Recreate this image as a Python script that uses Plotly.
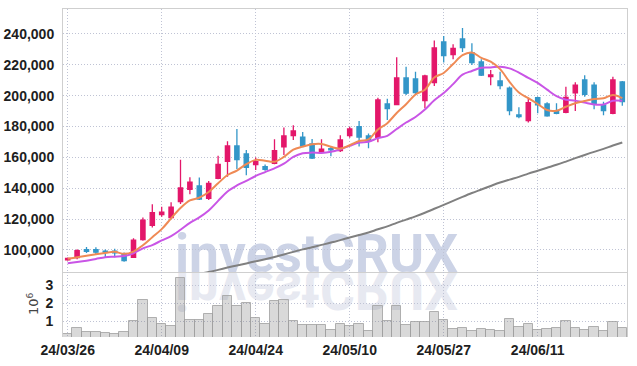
import base64
import plotly.graph_objects as go

# ---------------- data ----------------
dates = ["24/03/26", "24/03/27", "24/03/28", "24/03/29", "24/04/01", "24/04/02", "24/04/03", "24/04/04",
         "24/04/05", "24/04/08", "24/04/09", "24/04/11", "24/04/12", "24/04/15", "24/04/16", "24/04/17",
         "24/04/18", "24/04/19", "24/04/22", "24/04/23", "24/04/24", "24/04/25", "24/04/26", "24/04/29",
         "24/04/30", "24/05/02", "24/05/03", "24/05/07", "24/05/08", "24/05/09", "24/05/10", "24/05/13",
         "24/05/14", "24/05/16", "24/05/17", "24/05/20", "24/05/21", "24/05/22", "24/05/23", "24/05/24",
         "24/05/27", "24/05/28", "24/05/29", "24/05/30", "24/05/31", "24/06/03", "24/06/04", "24/06/05",
         "24/06/07", "24/06/10", "24/06/11", "24/06/12", "24/06/13", "24/06/14", "24/06/17", "24/06/18",
         "24/06/19", "24/06/20", "24/06/21", "24/06/24"]

opens = [93600, 95000, 100300, 100200, 99300, 99300, 97200, 95300, 106700, 116000,
         122900, 121000, 131300, 139300, 141500, 133500, 146500, 157500, 167400, 162200,
         155300, 154000, 156100, 166900, 174100, 173200, 168700, 163300, 165600, 164400,
         174100, 179900, 173900, 173000, 194600, 194200, 211500, 210800, 196800, 208500,
         234800, 226600, 236800, 227900, 221900, 212300, 209500, 204800, 187500, 183800,
         198700, 194600, 190300, 189200, 201900, 210200, 206900, 194000, 188600, 208900]
highs = [95200, 100500, 102000, 101700, 100400, 100800, 98300, 107600, 121000, 129600,
         128000, 131000, 158500, 147100, 147000, 144700, 161100, 170400, 178400, 164800,
         160000, 155400, 171700, 179300, 180800, 176500, 171900, 171700, 167400, 174300,
         179900, 183600, 175500, 198700, 198000, 224900, 218800, 215500, 213500, 235700,
         238700, 233300, 243900, 233900, 223600, 216600, 215500, 206000, 192500, 198700,
         199300, 195700, 195100, 205800, 208700, 213200, 208700, 196100, 212300, 209500]
lows = [93000, 94000, 98000, 97300, 95300, 95300, 92400, 94800, 106000, 114500,
        121600, 120500, 129800, 136100, 132400, 132400, 145800, 147500, 152500, 148400,
        151800, 151400, 155500, 161600, 171300, 166500, 159000, 162700, 160700, 163500,
        172800, 167000, 166000, 169800, 184200, 193800, 200400, 201100, 191800, 206300,
        221500, 223600, 228300, 219900, 212800, 206700, 204100, 187300, 185300, 182700,
        188600, 186400, 187900, 188600, 190100, 199300, 191200, 187300, 187900, 193500]
closes = [94600, 99500, 99200, 98600, 98600, 98200, 93100, 106400, 119400, 124200,
          124600, 127700, 140200, 144000, 133000, 143200, 155500, 167400, 158500, 153600,
          157200, 152300, 164300, 173900, 177100, 167400, 159600, 165400, 164900, 171300,
          178400, 173200, 170500, 197200, 191600, 211500, 201600, 202000, 212800, 230900,
          226000, 230700, 231200, 221400, 213300, 213400, 206500, 190300, 186500, 195500,
          194000, 187000, 188600, 198900, 206900, 200900, 194400, 190300, 210200, 196100]

ma5 = [94300, 95300, 96200, 97200, 98100, 98800, 97500, 99000, 103100, 108300,
       113500, 120500, 127200, 132100, 133900, 137600, 143200, 148600, 151500, 155600,
       158400, 157800, 157200, 160300, 165000, 167000, 168500, 168700, 166900, 165700,
       167900, 170600, 171700, 178100, 182200, 188800, 194500, 200800, 203900, 211800,
       214700, 220500, 226300, 228000, 224500, 222000, 217200, 209000, 202000, 198400,
       194600, 190700, 190300, 192800, 195100, 196500, 197900, 198300, 200500, 198400]
ma10 = [91400, 92200, 93100, 94200, 95300, 95700, 96100, 97900, 101100, 103200,
        106200, 109000, 113100, 117600, 121100, 125600, 131800, 137900, 141800, 144800,
        148000, 150500, 152900, 155900, 160300, 162700, 163100, 162900, 163600, 165300,
        167500, 169600, 170200, 172500, 174000, 178400, 182600, 186200, 191000, 197000,
        201700, 207500, 213600, 216000, 218100, 218300, 218800, 217700, 215000, 211500,
        208300, 203900, 199700, 197400, 196800, 195500, 194300, 194300, 196700, 196700]
ma60 = [None] * 13 + [
        83600, 84600, 85700, 87100, 88600, 90000, 91300,
        92700, 94000, 95500, 97100, 98800, 100400, 101800, 103300, 104800, 106400,
        108100, 109700, 111300, 113400, 115300, 117600, 119700, 121800, 124100, 126700,
        129200, 131800, 134400, 136900, 139200, 141500, 143700, 145600, 147400, 149500,
        151400, 153300, 155200, 157300, 159500, 161600, 163600, 165500, 167700, 169700]

volume = [300000, 610000, 410000, 410000, 340000, 280000, 410000, 1020000, 2160000, 1160000,
          850000, 720000, 3390000, 1070000, 1070000, 1400000, 1850000, 2400000, 1850000, 1990000,
          1160000, 850000, 2120000, 2180000, 1020000, 800000, 800000, 800000, 520000, 830000,
          740000, 830000, 460000, 1850000, 1020000, 1850000, 800000, 960000, 960000, 1500000,
          1070000, 570000, 630000, 460000, 570000, 500000, 460000, 1110000, 690000, 830000,
          500000, 570000, 630000, 1000000, 630000, 500000, 690000, 460000, 940000, 630000]

tick_dates = ["24/03/26", "24/04/09", "24/04/24", "24/05/10", "24/05/27", "24/06/11"]
tick_labels = ["24/03/26", "24/04/09", "24/04/24", "24/05/10", "24/05/27", "24/06/11"]
price_ticks = [100000, 120000, 140000, 160000, 180000, 200000, 220000, 240000]
vol_ticks = [1000000, 2000000, 3000000]
vol_tick_labels = ["1", "2", "3"]

# ---------------- styles ----------------
RED = "#e3176a"
BLUE = "#3396c8"
GRID = "#bfc3d4"
GRIDDASH = "1px,2px"
FRAME = "#cfcfcf"
TICKFONT = dict(family="Liberation Sans Narrow, Liberation Sans, Arial, sans-serif",
                size=14, color="#1e1e1e", weight="bold")

fig = go.Figure()

fig.add_trace(go.Candlestick(
    x=dates, open=opens, high=highs, low=lows, close=closes,
    increasing=dict(line=dict(color=RED, width=1.3), fillcolor=RED),
    decreasing=dict(line=dict(color=BLUE, width=1.3), fillcolor=BLUE),
    whiskerwidth=0, xaxis="x", yaxis="y", showlegend=False, hoverinfo="skip"))

fig.add_trace(go.Scatter(x=dates, y=ma60, mode="lines", xaxis="x", yaxis="y",
                         line=dict(color="#808080", width=2, shape="spline"),
                         showlegend=False, hoverinfo="skip"))
fig.add_trace(go.Scatter(x=dates, y=ma10, mode="lines", xaxis="x", yaxis="y",
                         line=dict(color="#c955e6", width=2, shape="spline"),
                         showlegend=False, hoverinfo="skip"))
fig.add_trace(go.Scatter(x=dates, y=ma5, mode="lines", xaxis="x", yaxis="y",
                         line=dict(color="#ef8a55", width=2, shape="spline"),
                         showlegend=False, hoverinfo="skip"))

fig.add_trace(go.Bar(x=dates, y=volume, xaxis="x2", yaxis="y2",
                     marker=dict(color="rgba(120,120,120,0.28)",
                                 line=dict(color="rgba(160,160,160,0.8)", width=1)),
                     showlegend=False, hoverinfo="skip"))

# watermark with reflection (svg image)
svg = (
    '<svg xmlns="http://www.w3.org/2000/svg" width="295" height="88" viewBox="0 0 295 88">'
    '<text x="5" y="44" font-family="Roboto, Liberation Sans, sans-serif" font-weight="bold" '
    'font-size="54" fill="#ccd3e6" textLength="283" lengthAdjust="spacingAndGlyphs">investCRUX</text>'
    '<g transform="translate(0,88) scale(1,-1)">'
    '<text x="5" y="44" font-family="Roboto, Liberation Sans, sans-serif" font-weight="bold" '
    'font-size="54" fill="#e7e9f1" textLength="283" lengthAdjust="spacingAndGlyphs">investCRUX</text>'
    '</g></svg>'
)
svg_uri = "data:image/svg+xml;base64," + base64.b64encode(svg.encode("utf-8")).decode("ascii")

PLOT_L, PLOT_R, PLOT_T, PLOT_B = 63, 627, 9, 337
PW, PH = PLOT_R - PLOT_L, PLOT_B - PLOT_T

fig.add_layout_image(dict(
    source=svg_uri, xref="paper", yref="paper",
    x=(170 - PLOT_L) / PW, y=1 - (228 - PLOT_T) / PH,
    sizex=295 / PW, sizey=88 / PH, sizing="stretch",
    xanchor="left", yanchor="top", layer="below"))

# volume axis exponent label
fig.add_annotation(text="10<sup>6</sup>", xref="paper", yref="paper",
                   x=(33 - PLOT_L) / PW, y=1 - (304 - PLOT_T) / PH,
                   xanchor="center", yanchor="middle", textangle=-90, showarrow=False,
                   font=dict(family="DejaVu Sans, sans-serif", size=13, color="#444444"))

vol_top = (PLOT_B - 272) / PH

fig.update_layout(
    width=637, height=366,
    margin=dict(l=PLOT_L, r=637 - PLOT_R, t=PLOT_T, b=366 - PLOT_B, autoexpand=False),
    paper_bgcolor="white", plot_bgcolor="white",
    showlegend=False, bargap=0, boxgap=0.35,
    xaxis=dict(type="category", domain=[0, 1], anchor="y", range=[-0.5, 59.5],
               tickvals=tick_dates, showticklabels=False, ticks="", automargin=False,
               showgrid=True, gridcolor=GRID, griddash=GRIDDASH, gridwidth=1,
               showline=True, mirror=True, linecolor=FRAME, linewidth=1,
               rangeslider=dict(visible=False), zeroline=False),
    xaxis2=dict(type="category", domain=[0, 1], anchor="y2", matches="x", range=[-0.5, 59.5],
                tickvals=tick_dates, ticktext=tick_labels, tickfont=TICKFONT, ticks="",
                ticklabelstandoff=3, automargin=False,
                showgrid=True, gridcolor=GRID, griddash=GRIDDASH, gridwidth=1,
                showline=False, zeroline=False),
    yaxis=dict(domain=[vol_top, 1], anchor="x", range=[85740, 256170],
               tickvals=price_ticks, tickformat=",d", tickfont=TICKFONT, ticks="",
               ticklabelstandoff=5, automargin=False,
               showgrid=True, gridcolor=GRID, griddash=GRIDDASH, gridwidth=1,
               showline=True, mirror=True, linecolor=FRAME, linewidth=1, zeroline=False),
    yaxis2=dict(domain=[0, vol_top], anchor="x2", range=[120000, 3720000],
                tickvals=vol_ticks, ticktext=vol_tick_labels, tickfont=TICKFONT, ticks="",
                ticklabelstandoff=6, automargin=False,
                showgrid=True, gridcolor=GRID, griddash=GRIDDASH, gridwidth=1,
                showline=True, mirror=True, linecolor=FRAME, linewidth=1, zeroline=False),
)

fig.write_html("out.html", config={"displayModeBar": False},
               post_script="document.body.style.margin='0';document.body.style.overflow='hidden';")
